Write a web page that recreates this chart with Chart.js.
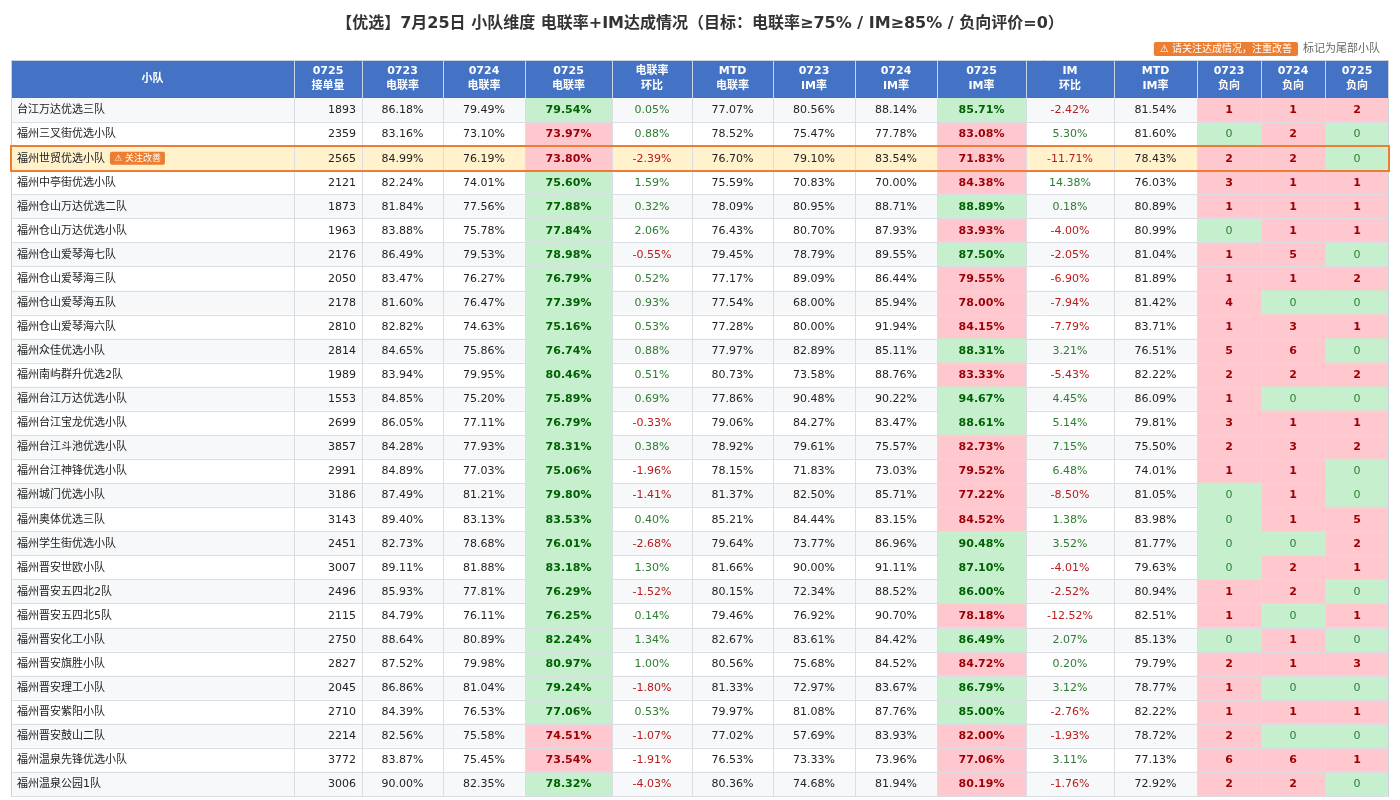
<!DOCTYPE html>
<html>
<head>
<meta charset="utf-8">
<script src="https://cdn.jsdelivr.net/npm/chart.js@4.4.0/dist/chart.umd.min.js"></script>
<style>
  body { margin: 0; background: #fff; overflow: hidden; }
</style>
</head>
<body>
<canvas id="tbl" width="1400" height="800"></canvas>
<script>
const teams = ['台江万达优选三队', '福州三叉街优选小队', '福州世贸优选小队', '福州中亭街优选小队', '福州仓山万达优选二队', '福州仓山万达优选小队', '福州仓山爱琴海七队', '福州仓山爱琴海三队', '福州仓山爱琴海五队', '福州仓山爱琴海六队', '福州众佳优选小队', '福州南屿群升优选2队', '福州台江万达优选小队', '福州台江宝龙优选小队', '福州台江斗池优选小队', '福州台江神锋优选小队', '福州城门优选小队', '福州奥体优选三队', '福州学生街优选小队', '福州晋安世欧小队', '福州晋安五四北2队', '福州晋安五四北5队', '福州晋安化工小队', '福州晋安旗胜小队', '福州晋安理工小队', '福州晋安紫阳小队', '福州晋安鼓山二队', '福州温泉先锋优选小队', '福州温泉公园1队'];
const tailTeams = ['福州世贸优选小队'];

const orders0725 = [1893, 2359, 2565, 2121, 1873, 1963, 2176, 2050, 2178, 2810, 2814, 1989, 1553, 2699, 3857, 2991, 3186, 3143, 2451, 3007, 2496, 2115, 2750, 2827, 2045, 2710, 2214, 3772, 3006];
const call0723 = [86.18, 83.16, 84.99, 82.24, 81.84, 83.88, 86.49, 83.47, 81.60, 82.82, 84.65, 83.94, 84.85, 86.05, 84.28, 84.89, 87.49, 89.40, 82.73, 89.11, 85.93, 84.79, 88.64, 87.52, 86.86, 84.39, 82.56, 83.87, 90.00];
const call0724 = [79.49, 73.10, 76.19, 74.01, 77.56, 75.78, 79.53, 76.27, 76.47, 74.63, 75.86, 79.95, 75.20, 77.11, 77.93, 77.03, 81.21, 83.13, 78.68, 81.88, 77.81, 76.11, 80.89, 79.98, 81.04, 76.53, 75.58, 75.45, 82.35];
const call0725 = [79.54, 73.97, 73.80, 75.60, 77.88, 77.84, 78.98, 76.79, 77.39, 75.16, 76.74, 80.46, 75.89, 76.79, 78.31, 75.06, 79.80, 83.53, 76.01, 83.18, 76.29, 76.25, 82.24, 80.97, 79.24, 77.06, 74.51, 73.54, 78.32];
const callDoD = [0.05, 0.88, -2.39, 1.59, 0.32, 2.06, -0.55, 0.52, 0.93, 0.53, 0.88, 0.51, 0.69, -0.33, 0.38, -1.96, -1.41, 0.40, -2.68, 1.30, -1.52, 0.14, 1.34, 1.00, -1.80, 0.53, -1.07, -1.91, -4.03];
const callMTD = [77.07, 78.52, 76.70, 75.59, 78.09, 76.43, 79.45, 77.17, 77.54, 77.28, 77.97, 80.73, 77.86, 79.06, 78.92, 78.15, 81.37, 85.21, 79.64, 81.66, 80.15, 79.46, 82.67, 80.56, 81.33, 79.97, 77.02, 76.53, 80.36];
const im0723 = [80.56, 75.47, 79.10, 70.83, 80.95, 80.70, 78.79, 89.09, 68.00, 80.00, 82.89, 73.58, 90.48, 84.27, 79.61, 71.83, 82.50, 84.44, 73.77, 90.00, 72.34, 76.92, 83.61, 75.68, 72.97, 81.08, 57.69, 73.33, 74.68];
const im0724 = [88.14, 77.78, 83.54, 70.00, 88.71, 87.93, 89.55, 86.44, 85.94, 91.94, 85.11, 88.76, 90.22, 83.47, 75.57, 73.03, 85.71, 83.15, 86.96, 91.11, 88.52, 90.70, 84.42, 84.52, 83.67, 87.76, 83.93, 73.96, 81.94];
const im0725 = [85.71, 83.08, 71.83, 84.38, 88.89, 83.93, 87.50, 79.55, 78.00, 84.15, 88.31, 83.33, 94.67, 88.61, 82.73, 79.52, 77.22, 84.52, 90.48, 87.10, 86.00, 78.18, 86.49, 84.72, 86.79, 85.00, 82.00, 77.06, 80.19];
const imDoD = [-2.42, 5.30, -11.71, 14.38, 0.18, -4.00, -2.05, -6.90, -7.94, -7.79, 3.21, -5.43, 4.45, 5.14, 7.15, 6.48, -8.50, 1.38, 3.52, -4.01, -2.52, -12.52, 2.07, 0.20, 3.12, -2.76, -1.93, 3.11, -1.76];
const imMTD = [81.54, 81.60, 78.43, 76.03, 80.89, 80.99, 81.04, 81.89, 81.42, 83.71, 76.51, 82.22, 86.09, 79.81, 75.50, 74.01, 81.05, 83.98, 81.77, 79.63, 80.94, 82.51, 85.13, 79.79, 78.77, 82.22, 78.72, 77.13, 72.92];
const neg0723 = [1, 0, 2, 3, 1, 0, 1, 1, 4, 1, 5, 2, 1, 3, 2, 1, 0, 0, 0, 0, 1, 1, 0, 2, 1, 1, 2, 6, 2];
const neg0724 = [1, 2, 2, 1, 1, 1, 5, 1, 0, 3, 6, 2, 0, 1, 3, 1, 1, 1, 0, 2, 2, 0, 1, 1, 0, 1, 0, 6, 2];
const neg0725 = [2, 0, 0, 1, 1, 1, 0, 2, 0, 1, 0, 2, 0, 1, 2, 0, 0, 5, 2, 1, 0, 1, 0, 3, 0, 1, 0, 1, 0];

const callTarget = 75;
const imTarget = 85;

// ---- layout / styles ----
const FONT = '"DejaVu Sans", "Noto Sans CJK SC", sans-serif';
const colWidths = [283, 68, 81, 82, 87, 80, 81, 82, 82, 89, 88, 83, 64, 64, 64];
const HEADER_H = 38;
const GOOD_BG = '#C6EFCE', GOOD_FG = '#006100';
const BAD_BG = '#FFC7CE', BAD_FG = '#9C0006';
const UP_FG = '#2E7D32', DOWN_FG = '#B71C1C';
const ORANGE = '#ED7D31';

const columns = [
  { head: ['小队'], vals: teams, kind: 'name' },
  { head: ['0725', '接单量'], vals: orders0725, kind: 'count' },
  { head: ['0723', '电联率'], vals: call0723, kind: 'pct' },
  { head: ['0724', '电联率'], vals: call0724, kind: 'pct' },
  { head: ['0725', '电联率'], vals: call0725, kind: 'target', target: callTarget },
  { head: ['电联率', '环比'], vals: callDoD, kind: 'delta' },
  { head: ['MTD', '电联率'], vals: callMTD, kind: 'pct' },
  { head: ['0723', 'IM率'], vals: im0723, kind: 'pct' },
  { head: ['0724', 'IM率'], vals: im0724, kind: 'pct' },
  { head: ['0725', 'IM率'], vals: im0725, kind: 'target', target: imTarget },
  { head: ['IM', '环比'], vals: imDoD, kind: 'delta' },
  { head: ['MTD', 'IM率'], vals: imMTD, kind: 'pct' },
  { head: ['0723', '负向'], vals: neg0723, kind: 'neg' },
  { head: ['0724', '负向'], vals: neg0724, kind: 'neg' },
  { head: ['0725', '负向'], vals: neg0725, kind: 'neg' }
];

const starts = [];
let total = 0;
colWidths.forEach(w => { starts.push(total); total += w; });

function rowBg(i) {
  if (tailTeams.includes(teams[i])) return '#FFF2CC';
  return i % 2 === 0 ? '#F7F8FA' : '#FFFFFF';
}

function isGood(col, i) {
  const v = col.vals[i];
  if (col.kind === 'target') return v >= col.target;
  if (col.kind === 'neg') return v === 0;
  return null;
}

function cellBg(col, i) {
  const g = isGood(col, i);
  if (g === null) return rowBg(i);
  return g ? GOOD_BG : BAD_BG;
}

function cellText(col, i) {
  const v = col.vals[i];
  switch (col.kind) {
    case 'name': return { t: v, color: '#222', bold: false, align: 'left' };
    case 'count': return { t: String(v), color: '#222', bold: false, align: 'right' };
    case 'pct': return { t: v.toFixed(2) + '%', color: '#222', bold: false, align: 'center' };
    case 'target': {
      const g = isGood(col, i);
      return { t: v.toFixed(2) + '%', color: g ? GOOD_FG : BAD_FG, bold: true, align: 'center' };
    }
    case 'delta': return { t: v.toFixed(2) + '%', color: v >= 0 ? UP_FG : DOWN_FG, bold: false, align: 'center' };
    case 'neg': {
      const g = isGood(col, i);
      return { t: String(v), color: g ? UP_FG : BAD_FG, bold: !g, align: 'center' };
    }
  }
}

function roundRect(ctx, x, y, w, h, r) {
  ctx.beginPath();
  ctx.moveTo(x + r, y);
  ctx.arcTo(x + w, y, x + w, y + h, r);
  ctx.arcTo(x + w, y + h, x, y + h, r);
  ctx.arcTo(x, y + h, x, y, r);
  ctx.arcTo(x, y, x + w, y, r);
  ctx.closePath();
}

const tablePlugin = {
  id: 'tablePlugin',
  afterDatasetsDraw(chart) {
    const ctx = chart.ctx;
    const xs = chart.scales.x;
    const area = chart.chartArea;
    const top = area.top - HEADER_H;
    const left = xs.getPixelForValue(0);
    const right = xs.getPixelForValue(total);
    const rowMeta = chart.getDatasetMeta(0).data;

    ctx.save();
    // header band
    ctx.fillStyle = '#4472C4';
    ctx.fillRect(left, top, right - left, HEADER_H);
    ctx.fillStyle = '#fff';
    ctx.font = 'bold 11px ' + FONT;
    ctx.textAlign = 'center';
    ctx.textBaseline = 'middle';
    columns.forEach((col, c) => {
      const cx = (xs.getPixelForValue(starts[c]) + xs.getPixelForValue(starts[c] + colWidths[c])) / 2;
      const cy = top + HEADER_H / 2;
      if (col.head.length === 1) {
        ctx.fillText(col.head[0], cx, cy);
      } else {
        ctx.fillText(col.head[0], cx, cy - 7.5);
        ctx.fillText(col.head[1], cx, cy + 7.5);
      }
    });

    // grid lines
    ctx.lineWidth = 1;
    ctx.strokeStyle = '#DADDE3';
    rowMeta.forEach(el => {
      const yb = Math.round(el.y + el.height / 2) + 0.5;
      ctx.beginPath();
      ctx.moveTo(left, yb);
      ctx.lineTo(right, yb);
      ctx.stroke();
    });
    for (let c = 1; c < columns.length; c++) {
      const x = Math.round(xs.getPixelForValue(starts[c])) + 0.5;
      ctx.strokeStyle = '#C9D3E6';
      ctx.beginPath();
      ctx.moveTo(x, top);
      ctx.lineTo(x, area.top);
      ctx.stroke();
      ctx.strokeStyle = '#DADDE3';
      ctx.beginPath();
      ctx.moveTo(x, area.top);
      ctx.lineTo(x, area.bottom);
      ctx.stroke();
    }
    ctx.strokeStyle = '#CCD2DC';
    ctx.beginPath();
    ctx.moveTo(Math.round(left) + 0.5, top);
    ctx.lineTo(Math.round(left) + 0.5, area.bottom);
    ctx.moveTo(Math.round(right) - 0.5, top);
    ctx.lineTo(Math.round(right) - 0.5, area.bottom);
    ctx.moveTo(left, top + 0.5);
    ctx.lineTo(right, top + 0.5);
    ctx.stroke();

    // cell texts, placed on the bar elements
    columns.forEach((col, c) => {
      chart.getDatasetMeta(c).data.forEach((el, i) => {
        const s = cellText(col, i);
        const x0 = Math.min(el.base, el.x), x1 = Math.max(el.base, el.x);
        ctx.font = (s.bold ? 'bold ' : '') + '11px ' + FONT;
        ctx.fillStyle = s.color;
        ctx.textAlign = s.align;
        const tx = s.align === 'left' ? x0 + 6 : s.align === 'right' ? x1 - 6 : (x0 + x1) / 2;
        ctx.fillText(s.t, tx, el.y + 0.5);
        if (col.kind === 'name' && tailTeams.includes(teams[i])) {
          const w = ctx.measureText(s.t).width;
          ctx.font = '9px ' + FONT;
          const label = '⚠ 关注改善';
          const bw = ctx.measureText(label).width + 8;
          const bx = tx + w + 5;
          ctx.fillStyle = ORANGE;
          roundRect(ctx, bx, el.y - 6.5, bw, 13, 2);
          ctx.fill();
          ctx.fillStyle = '#fff';
          ctx.textAlign = 'left';
          ctx.fillText(label, bx + 4, el.y + 0.5);
        }
      });
    });

    // tail-team row outline
    rowMeta.forEach((el, i) => {
      if (!tailTeams.includes(teams[i])) return;
      ctx.strokeStyle = ORANGE;
      ctx.lineWidth = 2;
      ctx.strokeRect(left, Math.round(el.y - el.height / 2), right - left, Math.round(el.height) + 1);
    });

    // note above the table, right side
    ctx.font = '11px ' + FONT;
    ctx.textAlign = 'right';
    ctx.fillStyle = '#666';
    const noteY = top - 11;
    const noteRight = right - 9;
    ctx.fillText('标记为尾部小队', noteRight, noteY);
    const noteW = ctx.measureText('标记为尾部小队').width;
    ctx.font = '10px ' + FONT;
    const badge = '⚠ 请关注达成情况，注重改善';
    const bw = ctx.measureText(badge).width + 12;
    const bx = noteRight - noteW - 5 - bw;
    ctx.fillStyle = ORANGE;
    roundRect(ctx, bx, noteY - 7, bw, 14, 2);
    ctx.fill();
    ctx.fillStyle = '#fff';
    ctx.textAlign = 'left';
    ctx.fillText(badge, bx + 6, noteY + 0.5);
    ctx.restore();
  }
};

new Chart(document.getElementById('tbl'), {
  type: 'bar',
  data: {
    labels: teams,
    datasets: columns.map((col, c) => ({
      label: col.head.join(' '),
      data: teams.map(() => [starts[c], starts[c] + colWidths[c]]),
      backgroundColor: teams.map((t, i) => cellBg(col, i)),
      borderWidth: 0,
      barPercentage: 1,
      categoryPercentage: 1,
      grouped: false
    }))
  },
  options: {
    indexAxis: 'y',
    responsive: false,
    animation: false,
    devicePixelRatio: 1,
    layout: { padding: { left: 11, right: 11, top: 0, bottom: 4 } },
    scales: {
      x: { type: 'linear', min: 0, max: total, display: false },
      y: { type: 'category', display: false }
    },
    plugins: {
      legend: { display: false },
      tooltip: { enabled: false },
      title: {
        display: true,
        text: '【优选】7月25日 小队维度 电联率+IM达成情况（目标：电联率≥75% / IM≥85% / 负向评价=0）',
        color: '#333',
        font: { family: FONT, size: 16, weight: 'bold', lineHeight: '20px' },
        padding: { top: 14, bottom: 64 }
      }
    }
  },
  plugins: [tablePlugin]
});
</script>
</body>
</html>
